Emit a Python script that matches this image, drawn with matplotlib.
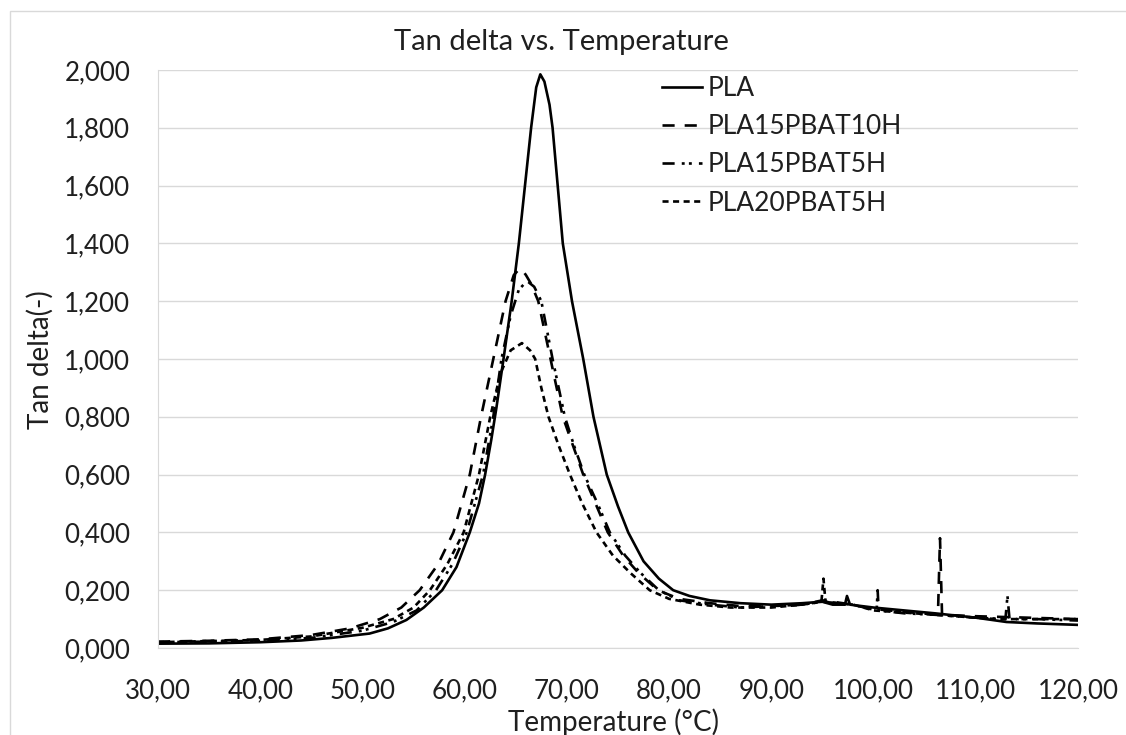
import matplotlib
matplotlib.use('Agg')
import matplotlib.pyplot as plt
from matplotlib.ticker import FuncFormatter, MultipleLocator
from matplotlib.patches import Rectangle

# data
pla_t = [30, 35, 40, 44, 47, 50.7, 52.5, 54.3, 56, 57.8, 59.2, 60.5, 61.4, 62.0, 62.6, 63.1, 63.8,
         64.6, 65.3, 65.9, 66.5, 67.0, 67.4, 67.8, 68.3, 68.6, 69.1, 69.6, 70.5, 71.6, 72.6, 73.9,
         75.0, 76.0, 77.5, 79.0, 80.4, 82, 84, 87, 90, 93, 95, 96, 97.2, 97.4, 97.7, 100, 103, 106,
         110, 113, 116, 120]
pla_v = [0.015, 0.016, 0.02, 0.026, 0.035, 0.05, 0.068, 0.097, 0.14, 0.2, 0.28, 0.4, 0.5, 0.6,
         0.72, 0.83, 1.0, 1.2, 1.4, 1.6, 1.8, 1.94, 1.985, 1.96, 1.88, 1.8, 1.6, 1.4, 1.2, 1.0, 0.8,
         0.6, 0.49, 0.4, 0.3, 0.24, 0.2, 0.18, 0.165, 0.155, 0.15, 0.155, 0.16, 0.15, 0.15, 0.18,
         0.15, 0.14, 0.13, 0.12, 0.105, 0.09, 0.085, 0.08]

p10h_t = [30, 35, 40, 45, 48.8, 51.7, 53.8, 55.6, 57.4, 58.9, 60.5, 61.6, 62.8, 64.0, 64.8, 65.3,
          65.6, 66.0, 66.5, 67.2, 68.4, 69.6, 70.6, 71.6, 72.8, 74.0, 75.5, 77.0, 78.9, 81, 84, 87,
          90, 93, 95, 97, 100, 103, 106.3, 106.5, 106.7, 110, 115, 120]
p10h_v = [0.022, 0.025, 0.03, 0.045, 0.068, 0.1, 0.14, 0.2, 0.29, 0.4, 0.6, 0.8, 1.0, 1.2, 1.29,
          1.31, 1.31, 1.29, 1.26, 1.2, 1.0, 0.8, 0.7, 0.6, 0.5, 0.4, 0.32, 0.26, 0.2, 0.17, 0.155,
          0.145, 0.145, 0.15, 0.165, 0.155, 0.135, 0.125, 0.115, 0.38, 0.115, 0.11, 0.105, 0.1]

p155h_t = [30, 35, 40, 45, 50, 53, 55.3, 57.2, 58.8, 60.2, 61.8, 62.8, 63.6, 64.5, 65.3, 66.1,
           66.8, 67.5, 68.6, 69.8, 70.7, 71.7, 73.0, 74.2, 75.7, 77.2, 79.0, 81, 84, 87, 90, 93,
           95, 98, 100.3, 100.4, 100.5, 103, 106, 110, 112.9, 113.1, 113.3, 116, 120]
p155h_v = [0.02, 0.022, 0.025, 0.035, 0.06, 0.09, 0.13, 0.2, 0.29, 0.4, 0.6, 0.8, 1.0, 1.15, 1.24,
           1.27, 1.25, 1.2, 1.0, 0.8, 0.7, 0.6, 0.5, 0.4, 0.32, 0.26, 0.2, 0.165, 0.15, 0.14,
           0.145, 0.15, 0.16, 0.15, 0.13, 0.2, 0.13, 0.12, 0.115, 0.105, 0.1, 0.18, 0.1, 0.1, 0.095]

p205h_t = [30, 35, 40, 45, 50, 53, 55, 56.6, 58.3, 59.9, 61.4, 62.5, 63.5, 64.5, 65.6, 66.4, 66.9,
           67.5, 68.2, 69.2, 70.3, 71.5, 72.9, 74.5, 76.2, 78.1, 80, 83, 86, 90, 93, 94.9, 95.1,
           95.3, 98, 100, 104, 108, 112, 116, 120]
p205h_v = [0.02, 0.024, 0.028, 0.04, 0.07, 0.1, 0.14, 0.2, 0.29, 0.4, 0.6, 0.8, 0.95, 1.03, 1.055,
           1.03, 1.0, 0.9, 0.8, 0.7, 0.6, 0.5, 0.4, 0.32, 0.26, 0.2, 0.17, 0.15, 0.14, 0.14, 0.15,
           0.16, 0.24, 0.16, 0.15, 0.13, 0.12, 0.11, 0.1, 0.1, 0.1]

plt.rcParams['font.family'] = ['Lato', 'DejaVu Sans']
FS = 18.7
TXT = '#1f1f1f'

fig = plt.figure(figsize=(11.26, 7.35), dpi=100)
ax = fig.add_axes([158 / 1126, 1 - 648 / 735, 920 / 1126, 578 / 735])

# outer chart border (cut off on the right and bottom)
fig.patches.append(Rectangle((10 / 1126, -0.1), 1.2, 1 - 11 / 735 + 0.1, transform=fig.transFigure,
                             fill=False, edgecolor='#d9d9d9', lw=1.0))

lw = 1.9
ax.plot(pla_t, pla_v, color='black', lw=lw, ls='-', label='PLA')
ax.plot(p10h_t, p10h_v, color='black', lw=lw, ls=(0, (4.6, 3.8)), label='PLA15PBAT10H')
ax.plot(p155h_t, p155h_v, color='black', lw=lw, ls=(0, (4.6, 2.7, 1.1, 1.6, 1.1, 2.7)),
        label='PLA15PBAT5H')
ax.plot(p205h_t, p205h_v, color='black', lw=lw, ls=(0, (2.3, 1.7)), label='PLA20PBAT5H')

ax.set_xlim(30, 120)
ax.set_ylim(0, 2.0)
ax.xaxis.set_major_locator(MultipleLocator(10))
ax.yaxis.set_major_locator(MultipleLocator(0.2))
ax.xaxis.set_major_formatter(FuncFormatter(lambda v, p: ('%.2f' % v).replace('.', ',')))
ax.yaxis.set_major_formatter(FuncFormatter(lambda v, p: ('%.3f' % v).replace('.', ',')))
ax.tick_params(axis='both', length=0, labelsize=FS, colors=TXT)
ax.tick_params(axis='y', pad=20)
ax.tick_params(axis='x', pad=22)

ax.grid(axis='y', color='#d9d9d9', lw=1.0)
ax.set_axisbelow(True)
for s in ['top', 'right']:
    ax.spines[s].set_visible(False)
ax.spines['left'].set_color('#d9d9d9')
ax.spines['bottom'].set_color('#d9d9d9')

fig.text(561 / 1126, 1 - 42 / 735, 'Tan delta vs. Temperature', ha='center', va='center',
         fontsize=21, color=TXT)
fig.text(40 / 1126, 1 - 360 / 735, 'Tan delta(-)', rotation=90, ha='center', va='center',
         fontsize=20, color=TXT)
fig.text(614 / 1126, 1 - 722 / 735, 'Temperature (°C)', ha='center', va='center',
         fontsize=20, color=TXT)

leg = fig.legend(loc='upper left', bbox_to_anchor=(662 / 1126, 1 - 76 / 735), frameon=False,
                 fontsize=19, handlelength=1.5, handletextpad=0.23, labelspacing=0.5,
                 borderpad=0, borderaxespad=0)
for t in leg.get_texts():
    t.set_color(TXT)

fig.savefig('out.png', dpi=100)
